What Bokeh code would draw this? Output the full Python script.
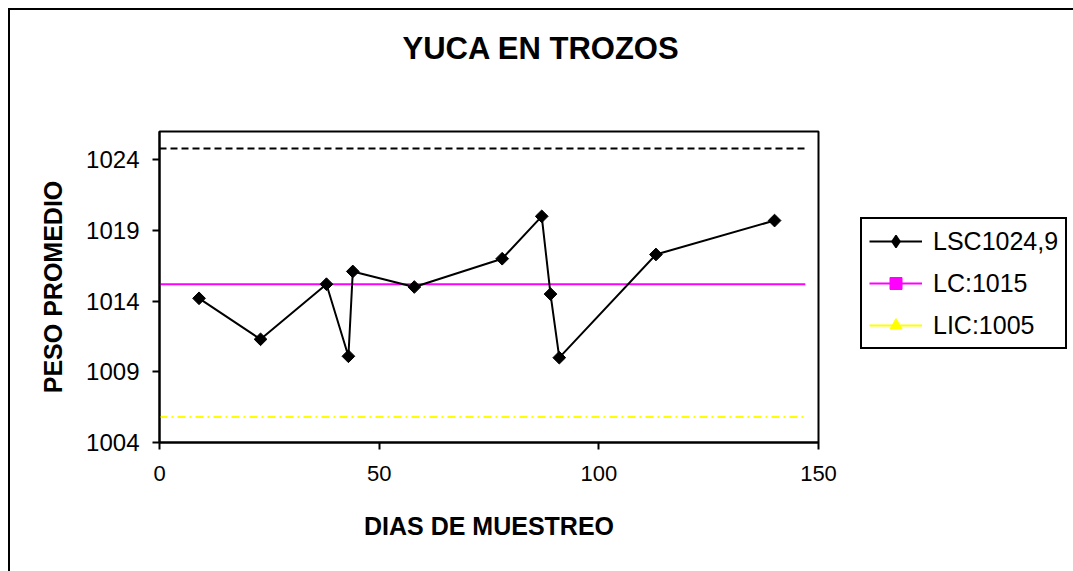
import math
from bokeh.plotting import figure
from bokeh.models import Legend, LegendItem, FixedTicker, Title
from bokeh.embed import file_html
from bokeh.resources import INLINE

# ---- data ----
days = [9, 23, 38, 43, 44, 58, 78, 87, 89, 91, 113, 140]
peso = [1014.2, 1011.3, 1015.2, 1010.1, 1016.1, 1015.0, 1017.0, 1020.0, 1014.5, 1010.0, 1017.3, 1019.7]
limit_x = [0, 147]
lsc_value = 1024.8
lc_value = 1015.2
lic_value = 1005.8
x_ticks = [0, 50, 100, 150]
y_ticks = [1004, 1009, 1014, 1019, 1024]
x_limits = (0, 150)
y_limits = (1004, 1026)
title_text = "YUCA EN TROZOS"
x_label = "DIAS DE MUESTREO"
y_label = "PESO PROMEDIO"
legend_labels = ["LSC1024,9", "LC:1015", "LIC:1005"]

FONT = "Liberation Sans"

p = figure(frame_width=659, frame_height=311, x_range=x_limits, y_range=y_limits,
           output_backend="svg", toolbar_location=None,
           min_border_left=149, min_border_right=255,
           min_border_top=121, min_border_bottom=129)
p.styles = {"margin-left": "8px", "margin-top": "8px",
            "border-left": "2px solid black", "border-top": "2px solid black"}
p.background_fill_color = "white"
p.border_fill_color = "white"
p.outline_line_color = "black"
p.outline_line_width = 2
p.xgrid.visible = False
p.ygrid.visible = False

for ax in (p.xaxis[0], p.yaxis[0]):
    ax.axis_line_width = 2
    ax.axis_line_color = "black"
    ax.major_tick_line_width = 2
    ax.major_tick_line_color = "black"
    ax.major_tick_in = 0
    ax.major_tick_out = 7
    ax.minor_tick_line_color = None
    ax.major_label_text_font = FONT
    ax.major_label_text_color = "black"
    ax.axis_label_text_font = FONT
    ax.axis_label_text_font_size = "25px"
    ax.axis_label_text_font_style = "bold"
    ax.axis_label_text_color = "black"

p.xaxis.ticker = FixedTicker(ticks=x_ticks)
p.yaxis.ticker = FixedTicker(ticks=y_ticks)
p.xaxis.major_label_text_font_size = "22px"
p.yaxis.major_label_text_font_size = "24px"
p.xaxis.axis_label = x_label
p.yaxis.axis_label = y_label
p.xaxis.major_label_standoff = 16
p.yaxis.major_label_standoff = 13
p.xaxis.axis_label_standoff = 28
p.yaxis.axis_label_standoff = 16

# spacer between the frame and the title (pushes the title upward)
p.add_layout(Title(text=" ", text_font_size="10px", standoff=46), "above")

# title
p.title.text = title_text
p.title.align = "left"
p.title.offset = 243
p.title.text_font = FONT
p.title.text_font_size = "31px"
p.title.text_font_style = "bold"
p.title.text_color = "black"
p.title.vertical_align = "top"
p.title.standoff = 10

# control limit lines
p.line(limit_x, [lsc_value] * len(limit_x), line_color="black", line_width=2, line_dash="7 4")
lc_line = p.line(limit_x, [lc_value] * len(limit_x), line_color="#FF00FF", line_width=2)
p.line(limit_x, [lic_value] * len(limit_x), line_color="#FFFF00", line_width=2, line_dash="8 4 2 4")

# data series
data_line = p.line(days, peso, line_color="black", line_width=2)
data_pts = p.scatter(days, peso, marker="square", angle=math.pi / 4, size=9,
                     fill_color="black", line_color="black", line_width=1)

# hidden legend proxies (only drawn inside the legend)
lsc_key = p.scatter(days, peso, marker="diamond", fill_color="black", line_color="black",
                    line_width=1.5, visible=False)
lc_key = p.scatter(limit_x, [lc_value] * len(limit_x), marker="square",
                   fill_color="#FF00FF", line_color="#FF00FF", visible=False)
lic_key_line = p.line(limit_x, [lic_value] * len(limit_x), line_color="#FFFF00",
                      line_width=2, visible=False)
lic_key = p.scatter(limit_x, [lic_value] * len(limit_x), marker="triangle",
                    fill_color="#FFFF00", line_color="#FFFF00", visible=False)

legend = Legend(items=[
    LegendItem(label=legend_labels[0], renderers=[data_line, lsc_key]),
    LegendItem(label=legend_labels[1], renderers=[lc_line, lc_key]),
    LegendItem(label=legend_labels[2], renderers=[lic_key_line, lic_key]),
], location=(42, 93))
legend.border_line_color = "black"
legend.border_line_width = 2
legend.border_line_alpha = 1
legend.background_fill_color = "white"
legend.background_fill_alpha = 1
legend.inactive_fill_alpha = 0
legend.padding = 7
legend.spacing = 12
legend.margin = 0
legend.glyph_width = 53
legend.glyph_height = 30
legend.label_height = 30
legend.label_standoff = 11
legend.label_text_font = FONT
legend.label_text_font_size = "25px"
legend.label_text_color = "black"
p.add_layout(legend, "right")

open("out.html", "w").write(file_html(p, INLINE))
